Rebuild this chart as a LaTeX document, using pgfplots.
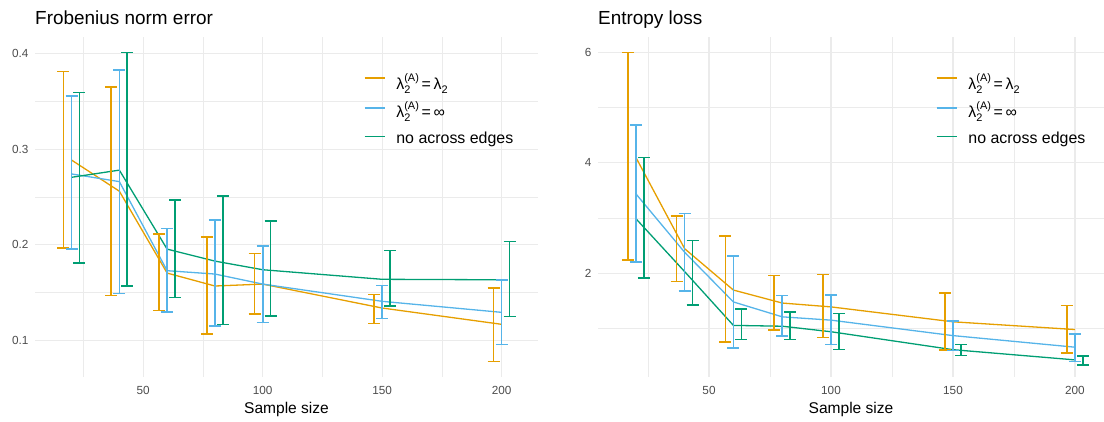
\documentclass[border=0pt]{standalone}
\usepackage{fontspec}
\setmainfont{Liberation Sans}
\usepackage{pgfplots}
\pgfplotsset{compat=1.18}
\usepackage{pgfplotstable}

\definecolor{cOr}{HTML}{E69F00}
\definecolor{cBl}{HTML}{56B4E9}
\definecolor{cGr}{HTML}{009E73}
\definecolor{gridc}{HTML}{EBEBEB}
\definecolor{tickc}{HTML}{4D4D4D}

% lambda with stacked superscript and subscript
\newcommand{\ssz}{\fontsize{11}{11}\selectfont}
\newcommand{\supsub}[2]{\rlap{\raisebox{-4bp}{\ssz #2}}\raisebox{8bp}{\ssz #1}}
\newcommand{\lamA}{λ\supsub{(A)}{2}}

% Frobenius norm error: mean, lower and upper end of the bar
\pgfplotstableread{
n   mean   lo     hi
20  0.2885 0.197  0.381
40  0.256  0.147  0.365
60  0.1705 0.1316 0.211
80  0.157  0.1066 0.208
100 0.159  0.128  0.191
150 0.134  0.118  0.148
200 0.117  0.078  0.155
}\frobA
\pgfplotstableread{
n   mean   lo     hi
20  0.274  0.1955 0.3555
40  0.266  0.149  0.3826
60  0.173  0.130  0.217
80  0.1695 0.115  0.226
100 0.159  0.119  0.199
150 0.141  0.123  0.1576
200 0.1295 0.096  0.163
}\frobB
\pgfplotstableread{
n   mean   lo     hi
20  0.2705 0.181  0.359
40  0.278  0.157  0.4007
60  0.1955 0.145  0.247
80  0.183  0.1167 0.251
100 0.174  0.1257 0.225
150 0.164  0.136  0.194
200 0.1635 0.125  0.2035
}\frobC

% Entropy loss
\pgfplotstableread{
n   mean  lo    hi
20  4.10  2.243 6.0
40  2.445 1.85  3.04
60  1.695 0.75  2.67
80  1.46  0.976 1.96
100 1.39  0.835 1.975
150 1.12  0.61  1.64
200 0.98  0.555 1.415
}\entA
\pgfplotstableread{
n   mean  lo    hi
20  3.44  2.20  4.69
40  2.38  1.68  3.08
60  1.48  0.645 2.31
80  1.21  0.86  1.60
100 1.15  0.71  1.61
150 0.87  0.60  1.14
200 0.66  0.40  0.90
}\entB
\pgfplotstableread{
n   mean  lo    hi
20  2.99  1.91  4.10
40  2.03  1.42  2.59
60  1.055 0.80  1.35
80  1.04  0.80  1.30
100 0.94  0.62  1.27
150 0.615 0.51  0.71
200 0.43  0.34  0.505
}\entC

\pgfplotsset{
  panel/.style={
    scale only axis, height=340bp,
    xtick={50,100,150,200}, minor xtick={25,75,125,175},
    grid=both,
    major grid style={draw=gridc, line width=1.1bp},
    minor grid style={draw=gridc, line width=0.6bp},
    axis line style={draw=none}, tick style={draw=none},
    major tick length=0pt, minor tick length=0pt,
    ticklabel style={font=\fontsize{11.8}{12}\selectfont, text=tickc},
    yticklabel style={anchor=east, xshift=-3bp},
    xticklabel style={anchor=north, yshift=-6bp},
    /pgf/number format/assume math mode=true,
    xlabel={Sample size},
    xlabel style={at={(axis description cs:0.5,0)}, anchor=base, yshift=-36bp, inner sep=0pt, font=\fontsize{15.6}{16}\selectfont},
    title style={at={(axis description cs:0,1)}, anchor=base west, yshift=7bp, inner sep=0pt, font=\fontsize{19}{20}\selectfont},
    legend cell align=left,
    legend style={draw=none, fill=none, inner sep=0pt, outer sep=0pt,
      font=\fontsize{16}{16}\selectfont, row sep=17.5bp,
      nodes={inner sep=0pt, text height=0pt, text depth=0pt},
      /tikz/every odd column/.append style={column sep=11bp}},
  },
  % error bar with caps, drawn around each (dodged) mean from its lo/hi columns
  ebar/.style={forget plot, scatter, only marks, mark=*, mark size=0pt,
    mark options={draw=none, fill=none},
    visualization depends on={\thisrow{hi}-\thisrow{mean} \as \eup},
    visualization depends on={\thisrow{mean}-\thisrow{lo} \as \edn},
    scatter/@pre marker code/.code={%
      \draw[#1, line width=1.6bp] (axis direction cs:0,-\edn) -- (axis direction cs:0,\eup);
      \draw[#1, line width=1.6bp] ([xshift=-6bp]axis direction cs:0,\eup) -- ([xshift=6bp]axis direction cs:0,\eup);
      \draw[#1, line width=1.6bp] ([xshift=-6bp]axis direction cs:0,-\edn) -- ([xshift=6bp]axis direction cs:0,-\edn);
    },
    scatter/@post marker code/.code={}},
  mline/.style={draw=#1, line width=1.3bp, mark=none},
}

\begin{document}
\begin{tikzpicture}
\useasboundingbox (0,0) rectangle (1104bp,422bp);

\begin{axis}[panel, at={(35bp,45bp)}, anchor=south west, width=503bp,
  xmin=4.7, xmax=215.2, ymin=0.062, ymax=0.417,
  ytick={0.1,0.2,0.3,0.4}, yticklabels={0.1,0.2,0.3,0.4},
  minor ytick={0.15,0.25,0.35},
  title={Frobenius norm error},
  legend style={at={(axis description cs:0.654,0.881)}, anchor=north west}]
\addplot[ebar=cOr] table[x expr=\thisrow{n}-3.4, y=mean]{\frobA};
\addplot[ebar=cBl] table[x=n, y=mean]{\frobB};
\addplot[ebar=cGr] table[x expr=\thisrow{n}+3.3, y=mean]{\frobC};
\addplot[mline=cOr, legend image code/.code={\draw[cOr, line width=1.4bp] (0bp,11bp) -- (20bp,11bp);}] table[x=n, y=mean]{\frobA};
\addlegendentry{\lamA\,=\,λ\raisebox{-4bp}{\ssz 2}}
\addplot[mline=cBl, legend image code/.code={\draw[cBl, line width=1.4bp] (0bp,10bp) -- (20bp,10bp);}] table[x=n, y=mean]{\frobB};
\addlegendentry{\lamA\,=\,∞}
\addplot[mline=cGr, legend image code/.code={\draw[cGr, line width=1.4bp] (0bp,7bp) -- (20bp,7bp);}] table[x=n, y=mean]{\frobC};
\addlegendentry{no across edges}
\end{axis}

\begin{axis}[panel, at={(598bp,45bp)}, anchor=south west, width=506bp,
  xmin=4.5, xmax=211.9, ymin=0.12, ymax=6.28,
  ytick={2,4,6}, minor ytick={1,3,5},
  title={Entropy loss},
  legend style={at={(axis description cs:0.668,0.881)}, anchor=north west}]
\addplot[ebar=cOr] table[x expr=\thisrow{n}-3.3, y=mean]{\entA};
\addplot[ebar=cBl] table[x=n, y=mean]{\entB};
\addplot[ebar=cGr] table[x expr=\thisrow{n}+3.3, y=mean]{\entC};
\addplot[mline=cOr, legend image code/.code={\draw[cOr, line width=1.4bp] (0bp,11bp) -- (20bp,11bp);}] table[x=n, y=mean]{\entA};
\addlegendentry{\lamA\,=\,λ\raisebox{-4bp}{\ssz 2}}
\addplot[mline=cBl, legend image code/.code={\draw[cBl, line width=1.4bp] (0bp,10bp) -- (20bp,10bp);}] table[x=n, y=mean]{\entB};
\addlegendentry{\lamA\,=\,∞}
\addplot[mline=cGr, legend image code/.code={\draw[cGr, line width=1.4bp] (0bp,7bp) -- (20bp,7bp);}] table[x=n, y=mean]{\entC};
\addlegendentry{no across edges}
\end{axis}
\end{tikzpicture}
\end{document}
